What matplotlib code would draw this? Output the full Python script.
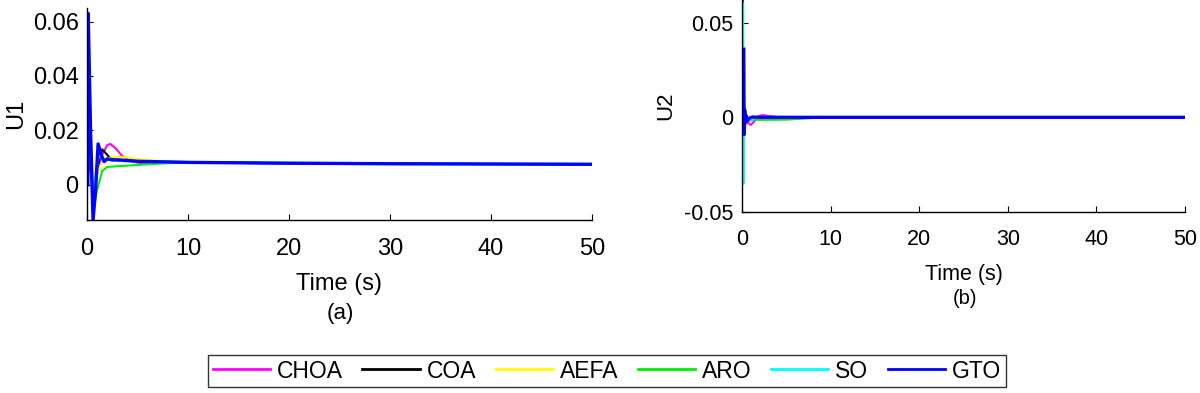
import matplotlib
matplotlib.use("Agg")
import matplotlib.pyplot as plt
from matplotlib.lines import Line2D

plt.rcParams['font.family'] = ['Liberation Sans', 'DejaVu Sans']

names = ["CHOA", "COA", "AEFA", "ARO", "SO", "GTO"]
colors = ["#ff00ff", "#000000", "#ffff00", "#00ee00", "#00ffff", "#0000ff"]
widths = [1.5, 1.5, 1.5, 1.5, 2.0, 2.4]

# ---- U1 (panel a) ----
u1_t = {
    "CHOA": [0.05, 0.1, 0.4, 0.7, 1.0, 1.5, 2.0, 2.3, 2.8, 3.5, 4.5, 5.5, 7, 10, 20, 30, 40, 50],
    "COA":  [0.05, 0.1, 0.4, 0.7, 1.0, 1.5, 2.0, 2.5, 3.0, 4, 6, 10, 20, 30, 40, 50],
    "AEFA": [0.05, 0.1, 0.4, 0.7, 1.0, 1.5, 2.0, 3.0, 4.0, 5, 7, 10, 20, 30, 40, 50],
    "ARO":  [0.05, 0.1, 0.4, 0.7, 1.0, 1.5, 2.0, 3.0, 4.0, 6, 8, 10, 20, 30, 40, 50],
    "SO":   [0.05, 0.1, 0.4, 0.6, 0.9, 1.2, 1.6, 2.0, 2.5, 3.5, 5, 10, 20, 30, 40, 50],
    "GTO":  [0.08, 0.12, 0.35, 0.6, 0.85, 1.1, 1.4, 1.7, 2.0, 2.5, 3.5, 5, 10, 20, 30, 40, 50],
}
u1_v = {
    "CHOA": [0.018, 0.017, 0.002, -0.004, 0.004, 0.011, 0.0145, 0.0150, 0.0135, 0.0105, 0.0085, 0.0078, 0.0080, 0.0081, 0.0079, 0.0077, 0.0076, 0.0075],
    "COA":  [0.020, 0.019, 0.004, -0.006, 0.006, 0.013, 0.011, 0.0088, 0.0092, 0.0090, 0.0085, 0.0082, 0.0079, 0.0077, 0.0076, 0.0075],
    "AEFA": [0.021, 0.020, 0.006, -0.003, 0.004, 0.0085, 0.0098, 0.0102, 0.0100, 0.0094, 0.0088, 0.0083, 0.0079, 0.0077, 0.0076, 0.0075],
    "ARO":  [0.030, 0.035, 0.008, -0.008, -0.002, 0.005, 0.0065, 0.0068, 0.0070, 0.0075, 0.0079, 0.0081, 0.0079, 0.0077, 0.0076, 0.0075],
    "SO":   [0.045, 0.050, 0.010, -0.010, 0.005, 0.012, 0.0090, 0.0095, 0.0090, 0.0088, 0.0086, 0.0082, 0.0079, 0.0077, 0.0076, 0.0075],
    "GTO":  [0.000, 0.063, 0.020, -0.013, -0.002, 0.015, 0.011, 0.0085, 0.0095, 0.0092, 0.0090, 0.0086, 0.0082, 0.0079, 0.0077, 0.0076, 0.0075],
}

# ---- U2 (panel b) ----
u2_t = {
    "CHOA": [0.08, 0.12, 0.2, 0.4, 0.7, 1.0, 1.4, 1.8, 2.3, 3.0, 4.0, 6, 10, 20, 30, 40, 50],
    "COA":  [0.08, 0.1, 0.13, 0.18, 0.25, 0.35, 0.5, 0.8, 1.2, 1.8, 3, 10, 20, 30, 40, 50],
    "AEFA": [0.08, 0.12, 0.2, 0.4, 0.8, 1.2, 2.0, 3.0, 5, 10, 20, 30, 40, 50],
    "ARO":  [0.08, 0.12, 0.2, 0.4, 0.8, 1.2, 2.0, 3.0, 5.0, 6.5, 8, 10, 20, 30, 40, 50],
    "SO":   [0.1, 0.11, 0.13, 0.18, 0.25, 0.4, 0.7, 1.0, 1.5, 2.5, 10, 20, 30, 40, 50],
    "GTO":  [0.2, 0.22, 0.26, 0.3, 0.36, 0.45, 0.6, 0.8, 1.2, 1.8, 3, 10, 20, 30, 40, 50],
}
u2_v = {
    "CHOA": [0.0, 0.004, -0.003, 0.000, -0.003, -0.004, -0.002, 0.0005, 0.0012, 0.0007, 0.0002, 0.0, 0.0, 0.0, 0.0, 0.0, 0.0],
    "COA":  [0.062, 0.02, -0.035, 0.010, -0.004, 0.003, -0.002, -0.001, 0.0, 0.0002, 0.0, 0.0, 0.0, 0.0, 0.0, 0.0],
    "AEFA": [0.0, 0.005, -0.004, 0.001, -0.002, -0.001, -0.0005, 0.0, 0.0, 0.0, 0.0, 0.0, 0.0, 0.0],
    "ARO":  [0.0, 0.004, -0.004, 0.000, -0.002, -0.0012, -0.0013, -0.0013, -0.0012, -0.0008, -0.0003, 0.0, 0.0, 0.0, 0.0, 0.0],
    "SO":   [0.060, 0.040, -0.035, 0.008, -0.003, 0.001, -0.002, -0.001, 0.0, 0.0, 0.0, 0.0, 0.0, 0.0, 0.0],
    "GTO":  [0.036, 0.010, -0.009, 0.004, -0.003, 0.001, -0.002, -0.0005, 0.0002, 0.0, 0.0, 0.0, 0.0, 0.0, 0.0, 0.0],
}

fig = plt.figure(figsize=(12, 3.93), dpi=100)
ax1 = fig.add_axes([87/1200, 1 - 220/393, (592-87)/1200, (220-8)/393])
ax2 = fig.add_axes([742/1200, 1 - 212/393, (1185-742)/1200, (212-0)/393])

for n, c, w in zip(names, colors, widths):
    ax1.plot(u1_t[n], u1_v[n], color=c, lw=w, label=n)
    ax2.plot(u2_t[n], u2_v[n], color=c, lw=w)

ax1.set_xlim(0, 50)
ax1.set_ylim(-0.013, 0.065)
ax1.set_yticks([0, 0.02, 0.04, 0.06])
ax1.set_yticklabels(["0", "0.02", "0.04", "0.06"])
ax2.set_xlim(0, 50)
ax2.set_ylim(-0.05, 0.062)
ax2.set_yticks([-0.05, 0, 0.05])
ax2.set_yticklabels(["-0.05", "0", "0.05"])

for ax in (ax1, ax2):
    ax.set_xticks([0, 10, 20, 30, 40, 50])
    for s in ("top", "right"):
        ax.spines[s].set_visible(False)
    for s in ("left", "bottom"):
        ax.spines[s].set_linewidth(1.0)

ax1.tick_params(direction="in", length=4, labelsize=17)
ax1.tick_params(axis="x", pad=13)
ax1.tick_params(axis="y", pad=6)
ax2.tick_params(direction="in", length=4, labelsize=15.5)
ax2.tick_params(axis="x", pad=12)
ax2.tick_params(axis="y", pad=6)

ax1.set_ylabel("U1", fontsize=17, labelpad=4)
ax1.set_xlabel("Time (s)", fontsize=17, labelpad=9)
ax2.set_ylabel("U2", fontsize=16, labelpad=6)
ax2.set_xlabel("Time (s)", fontsize=15.5, labelpad=10)

fig.text(340/1200, 1 - 314/393, "(a)", fontsize=16, ha="center", va="center")
fig.text(965/1200, 1 - 299/393, "(b)", fontsize=14.5, ha="center", va="center")

handles = [Line2D([0], [0], color=c, lw=2) for c in colors]
leg = fig.legend(handles, names, loc="center", bbox_to_anchor=(607/1200, 1 - 371/393),
                 ncol=6, fontsize=16.5, frameon=True, fancybox=False, edgecolor="black",
                 handlelength=2.5, handletextpad=0.3, columnspacing=0.85, borderpad=0.2,
                 borderaxespad=0)
leg.get_frame().set_linewidth(1.0)

fig.savefig("out.png", dpi=100)
